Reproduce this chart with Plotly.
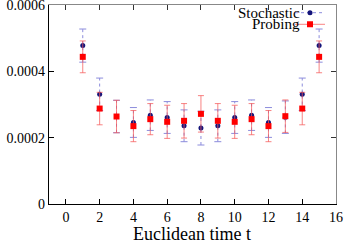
import plotly.graph_objects as go

t = list(range(1, 16))
stochastic = [4.78e-4, 3.31e-4, 2.64e-4, 2.46e-4, 2.68e-4, 2.61e-4, 2.36e-4, 2.29e-4,
              2.36e-4, 2.61e-4, 2.68e-4, 2.46e-4, 2.62e-4, 3.31e-4, 4.78e-4]
stochastic_err = [0.50e-4, 0.49e-4, 0.49e-4, 0.45e-4, 0.46e-4, 0.48e-4, 0.48e-4, 0.51e-4,
                  0.48e-4, 0.48e-4, 0.46e-4, 0.45e-4, 0.49e-4, 0.49e-4, 0.50e-4]
probing = [4.44e-4, 2.88e-4, 2.64e-4, 2.35e-4, 2.56e-4, 2.48e-4, 2.51e-4, 2.72e-4,
           2.51e-4, 2.48e-4, 2.56e-4, 2.35e-4, 2.65e-4, 2.88e-4, 4.44e-4]
probing_err = [0.48e-4, 0.49e-4, 0.49e-4, 0.47e-4, 0.47e-4, 0.50e-4, 0.52e-4, 0.55e-4,
               0.52e-4, 0.50e-4, 0.47e-4, 0.47e-4, 0.49e-4, 0.49e-4, 0.48e-4]

x_ticks = list(range(0, 17, 2))
y_ticks = [0, 0.0002, 0.0004, 0.0006]
y_ticktext = ["0", "0.0002", "0.0004", "0.0006"]
series_names = ["Stochastic", "Probing"]
x_title = "Euclidean time t"

FONT = "Liberation Serif"
BLUE = "#14147a"
BLUE_ERR = "#8c8cdc"
RED = "#ff0000"
RED_ERR = "rgba(245,90,90,0.75)"

fig = go.Figure()

# Stochastic dotted error bars
ex, ey = [], []
for xi, yi, ei in zip(t, stochastic, stochastic_err):
    ex += [xi, xi, None]
    ey += [yi - ei, yi + ei, None]
fig.add_trace(go.Scatter(x=ex, y=ey, mode="lines", showlegend=False, hoverinfo="skip",
                         line=dict(color=BLUE_ERR, width=1, dash="dot")))
fig.add_trace(go.Scatter(x=t + t, y=[y - e for y, e in zip(stochastic, stochastic_err)] +
                         [y + e for y, e in zip(stochastic, stochastic_err)],
                         mode="markers", showlegend=False, hoverinfo="skip",
                         marker=dict(symbol="line-ew", size=5, line=dict(color=BLUE_ERR, width=1))))
fig.add_trace(go.Scatter(x=t, y=stochastic, mode="markers", showlegend=False,
                         marker=dict(symbol="circle", size=5, color=BLUE)))

# Probing
fig.add_trace(go.Scatter(x=t, y=probing, mode="markers", showlegend=False,
                         marker=dict(symbol="square", size=6, color=RED),
                         error_y=dict(type="data", array=probing_err, color=RED_ERR,
                                      thickness=1, width=3)))

# legend samples
fig.add_trace(go.Scatter(x=[None], y=[None], mode="lines+markers", name=" ",
                         legend="legend",
                         line=dict(color=BLUE_ERR, width=1, dash="dot"),
                         marker=dict(symbol="circle", size=5, color=BLUE)))
fig.add_trace(go.Scatter(x=[None], y=[None], mode="lines+markers", name=" ",
                         legend="legend2",
                         line=dict(color=RED_ERR, width=1),
                         marker=dict(symbol="square", size=6, color=RED)))

# mirror axes for top/right ticks
fig.add_trace(go.Scatter(x=[None], y=[None], xaxis="x2", yaxis="y2", showlegend=False))

legend_common = dict(xref="container", yref="container", xanchor="left", yanchor="middle",
                     bgcolor="rgba(0,0,0,0)", borderwidth=0,
                     font=dict(family=FONT, size=10, color="black"))

YMAX = 0.0006 * 1.0008

fig.update_layout(
    width=348, height=249,
    margin=dict(l=49, r=12, t=5, b=45, autoexpand=False),
    plot_bgcolor="white", paper_bgcolor="white",
    font=dict(family=FONT, size=13, color="black"),
    xaxis=dict(range=[-1, 16], tickvals=x_ticks, ticks="inside", ticklen=5,
               tickcolor="black", showline=True, linecolor="black", linewidth=1.3,
               showgrid=False, zeroline=False, mirror=False, automargin=False,
               ticklabeloverflow="allow",
               tickfont=dict(family=FONT, size=14)),
    yaxis=dict(range=[0, YMAX], tickvals=y_ticks, ticktext=y_ticktext, ticks="inside",
               ticklen=5, tickcolor="black", showline=True, linecolor="black", linewidth=1.3,
               showgrid=False, zeroline=False, mirror=False, automargin=False,
               ticklabeloverflow="allow",
               tickfont=dict(family=FONT, size=14)),
    xaxis2=dict(overlaying="x", side="top", matches="x", range=[-1, 16], tickvals=x_ticks,
                ticks="inside", ticklen=5, tickcolor="#333", showticklabels=False,
                showline=True, linecolor="#888", linewidth=1.3, showgrid=False, zeroline=False),
    yaxis2=dict(overlaying="y", side="right", range=[0, YMAX], tickvals=y_ticks,
                ticks="inside", ticklen=5, tickcolor="#333", showticklabels=False,
                showline=True, linecolor="#888", linewidth=1.3, showgrid=False, zeroline=False,
                anchor="x2"),
    legend=dict(x=290 / 348, y=1 - 12.7 / 249, **legend_common),
    legend2=dict(x=290 / 348, y=1 - 24.3 / 249, **legend_common),
    annotations=[
        dict(text=series_names[0], xref="paper", yref="paper", x=(302 - 49) / 287,
             y=(204.3 - 13.3) / 199.3, xanchor="right", yanchor="middle", showarrow=False,
             font=dict(family=FONT, size=15, color="black")),
        dict(text=series_names[1], xref="paper", yref="paper", x=(302 - 49) / 287,
             y=(204.3 - 24.3) / 199.3, xanchor="right", yanchor="middle", showarrow=False,
             font=dict(family=FONT, size=15, color="black")),
        dict(text=x_title, xref="paper", yref="paper", x=(192 - 49) / 287,
             y=(204.3 - 234) / 199.3, xanchor="center", yanchor="middle", showarrow=False,
             font=dict(family=FONT, size=18, color="black")),
    ],
)

fig.write_html("out.html", config={"displayModeBar": False},
               post_script="document.body.style.margin='0';")
